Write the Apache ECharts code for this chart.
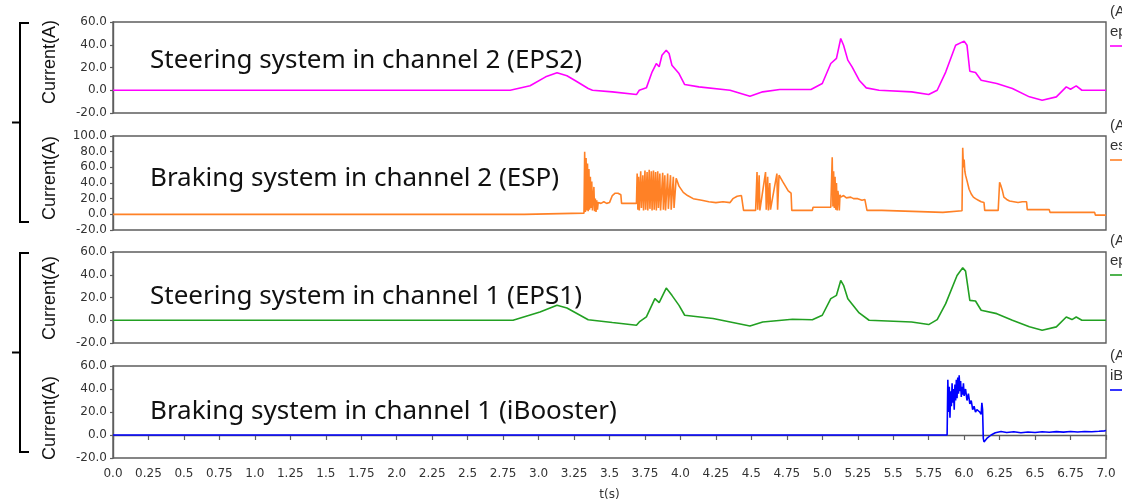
<!DOCTYPE html>
<html>
<head>
<meta charset="utf-8">
<script src="https://cdn.jsdelivr.net/npm/echarts@6/dist/echarts.min.js"></script>
<style>html,body{margin:0;padding:0;background:#fff}#c{width:1122px;height:502px}</style>
</head>
<body>
<div id="c"></div>
<script>
// ---- data (time in s, current in A) ----
const panelTitles = ['Steering system in channel 2 (EPS2)','Braking system in channel 2 (ESP)','Steering system in channel 1 (EPS1)','Braking system in channel 1 (iBooster)'];
const yMin = [-20,-20,-20,-20];
const yMax = [60,100,60,60];
const xTickStep = 0.25;

const eps2 = [[0,0],[2.8,0],[2.94,3.9],[3.05,11.8],[3.13,15.3],[3.2,12.7],[3.26,8.3],[3.35,1.5],[3.38,0],[3.52,-1.4],[3.69,-3.8],[3.71,0],[3.76,2.1],[3.8,16],[3.83,23.5],[3.85,20.6],[3.87,30.8],[3.9,35.2],[3.92,32.3],[3.94,22],[3.99,14.7],[4.03,5],[4.13,3],[4.35,0],[4.49,-5.3],[4.58,-1.4],[4.7,0.6],[4.92,0.6],[5.0,5.9],[5.06,23.5],[5.1,28],[5.13,45.5],[5.15,39.6],[5.18,26.5],[5.21,20.6],[5.26,8.8],[5.31,2.1],[5.4,0],[5.63,-1.4],[5.75,-3.8],[5.81,0],[5.87,16],[5.94,39.6],[6.0,43.2],[6.02,39.6],[6.04,16.7],[6.08,15.6],[6.12,8.8],[6.23,5.9],[6.34,1.5],[6.46,-5.8],[6.55,-8.8],[6.65,-5.8],[6.72,3],[6.75,0.9],[6.79,3.9],[6.83,0],[7,0]];

const esp = [[0,0],[2.9,0],[2.9,1.5],[3.32,1.5],[3.325,80],[3.33,3],[3.335,72],[3.34,5],[3.345,65],[3.35,4],[3.355,58],[3.36,6],[3.365,48],[3.37,8],[3.375,42],[3.38,5],[3.39,35],[3.395,4],[3.40,20],[3.405,3],[3.41,18],[3.415,6],[3.42,15],[3.43,17],[3.44,14],[3.46,16],[3.48,14],[3.50,15],[3.52,24],[3.54,27],[3.56,27],[3.58,25],[3.585,14],[3.62,14],[3.66,14],[3.69,14],
[3.695,52],[3.70,6],[3.705,48],[3.71,5],[3.72,55],[3.725,8],[3.735,50],[3.74,5],[3.75,56],[3.755,6],[3.765,54],[3.77,5],[3.78,57],[3.785,7],[3.795,55],[3.80,5],[3.81,56],[3.815,6],[3.825,54],[3.83,5],[3.84,55],[3.845,8],[3.855,52],[3.86,5],[3.875,53],[3.88,6],[3.89,50],[3.895,5],[3.91,52],[3.915,7],[3.93,50],[3.935,6],[3.95,48],[3.955,8],
[3.97,46],[3.99,36],[4.02,28],[4.05,24],[4.09,20],[4.15,18],[4.2,16],[4.25,15],[4.3,16],[4.35,15],[4.37,20],[4.40,23],[4.43,24],[4.44,22],[4.445,5],[4.53,5],
[4.54,54],[4.545,6],[4.555,50],[4.56,5],[4.60,54],[4.605,6],[4.615,48],[4.62,5],[4.63,40],[4.635,6],[4.68,52],[4.685,6],[4.695,50],[4.70,48],[4.72,42],[4.74,36],[4.76,30],[4.78,27],[4.785,5],
[4.93,5],[4.935,9],[5.06,9],[5.07,73],[5.075,10],[5.08,55],[5.085,8],[5.09,48],[5.095,6],[5.10,40],[5.105,5],[5.11,30],[5.115,22],[5.12,5],[5.125,25],[5.13,22],[5.15,24],[5.17,21],[5.2,22],[5.22,20],[5.25,20],[5.28,18],[5.3,19],[5.31,18],[5.315,5],[5.42,5],[5.425,2.5],[5.85,2.5],[5.855,4.5],[5.985,4.5],
[5.99,85],[5.995,60],[6.0,70],[6.005,55],[6.01,50],[6.02,43],[6.035,32],[6.05,26],[6.065,22],[6.08,20],[6.1,18],[6.12,16],[6.14,15],[6.145,5],[6.24,5],[6.25,41],[6.26,36],[6.27,30],[6.28,22],[6.3,19],[6.32,17],[6.35,16],[6.38,15],[6.41,16],[6.44,16],[6.445,6],[6.6,6],[6.605,2.5],[6.92,2.5],[6.925,-1],[7,-1]];

const eps1 = [[0,0],[2.82,0],[3.01,7.3],[3.13,13.1],[3.2,10.8],[3.35,0.5],[3.52,-2],[3.69,-4.4],[3.71,-1.5],[3.76,2.9],[3.82,19],[3.85,15.5],[3.9,28.3],[3.94,21.9],[3.99,13.1],[4.03,4.4],[4.23,1.5],[4.49,-5],[4.58,-1.5],[4.79,0.9],[4.93,0.5],[5.0,4.4],[5.06,19],[5.1,21.9],[5.13,35],[5.15,30.7],[5.18,19],[5.26,6.4],[5.33,0],[5.63,-1.5],[5.75,-3.8],[5.81,0.6],[5.87,14.6],[5.95,39.4],[5.99,46.1],[6.01,43.2],[6.04,17.5],[6.08,16.9],[6.12,8.8],[6.23,5.8],[6.34,0],[6.46,-5.8],[6.55,-8.8],[6.65,-5.8],[6.72,2.9],[6.76,0.6],[6.79,2.9],[6.83,0],[7,0]];

const ibooster = [[0,0],[5.88,0],[5.885,48],[5.89,20],[5.895,42],[5.9,15],[5.905,38],[5.91,25],[5.915,45],[5.92,28],[5.925,40],[5.93,22],[5.935,44],[5.94,30],[5.945,48],[5.95,32],[5.955,50],[5.96,36],[5.965,52],[5.97,38],[5.975,47],[5.98,33],[5.985,42],[5.99,35],[5.995,45],[6.0,34],[6.01,40],[6.02,30],[6.03,36],[6.04,27],[6.05,30],[6.06,22],[6.07,25],[6.08,20],[6.09,22],[6.1,21],[6.11,20],[6.12,18],[6.125,28],[6.13,22],[6.135,-3],[6.14,-6],[6.16,-3],[6.19,0],[6.22,2],[6.26,3],[6.3,2.2],[6.35,2.8],[6.4,2],[6.45,2.6],[6.5,2.2],[6.55,2.8],[6.6,2.4],[6.65,2.9],[6.7,2.5],[6.75,3],[6.8,2.6],[6.85,3],[6.9,2.8],[6.95,3.2],[6.99,3.6],[7,4]];

const seriesData = [eps2, esp, eps1, ibooster];
const colors = ['#ff00ff','#ff8126','#22a022','#0000ff'];
const legendNames = ['eps2','esp','eps1','iBooster'];

// ---- layout ----
const grids = [
  {left:113, right:16, top:22, height:91},
  {left:113, right:16, top:136, height:94},
  {left:113, right:16, top:252, height:91},
  {left:113, right:16, top:366, height:92}
];
const titleCenters = [60, 178, 296, 411];
const ylabCenters = [62, 178, 298, 418];
const legendTops = [4, 118, 233, 348];

const fmtX = v => (Math.abs(v*2 - Math.round(v*2)) < 1e-9) ? v.toFixed(1) : v.toFixed(2);
const tickFont = 'DejaVu Sans';

const option = {
  animation:false,
  backgroundColor:'#fff',
  grid: grids.map(g => Object.assign({show:true, borderColor:'#5e5e5e', borderWidth:1.4, backgroundColor:'#fff'}, g)),
  xAxis: grids.map((g,i) => ({
    type:'value', gridIndex:i, min:0, max:7, interval:xTickStep,
    show: i===3,
    offset:4,
    name: i===3 ? 't(s)' : '', nameLocation:'middle', nameGap:27,
    nameTextStyle:{color:'#333', fontSize:12, fontFamily:tickFont},
    axisLine:{show:true, lineStyle:{color:'#5e5e5e', width:1.4}},
    axisTick:{show:true, length:5, lineStyle:{color:'#5e5e5e', width:1.2}},
    axisLabel:{color:'#333', fontSize:12, fontFamily:tickFont, margin:6, formatter:fmtX},
    splitLine:{show:false}
  })),
  yAxis: grids.map((g,i) => ({
    type:'value', gridIndex:i, min:yMin[i], max:yMax[i], interval:20,
    offset:4,
    axisLine:{show:true, lineStyle:{color:'#5e5e5e', width:1.4}},
    axisTick:{show:true, length:3, lineStyle:{color:'#5e5e5e', width:1.2}},
    axisLabel:{color:'#333', fontSize:12, fontFamily:tickFont, margin:2, formatter:v=>v.toFixed(1)},
    splitLine:{show:false}
  })),
  series: seriesData.map((d,i) => ({
    type:'line', xAxisIndex:i, yAxisIndex:i, data:d, showSymbol:false, symbol:'none',
    lineStyle:{color:colors[i], width:1.6}, clip:true
  })),
  graphic: []
};

panelTitles.forEach((t,i) => {
  option.graphic.push({type:'text', x:150, y:titleCenters[i]+1, z:10,
    style:{text:t, fill:'#111', font:'26px "Noto Sans"', verticalAlign:'middle'}});
  option.graphic.push({type:'text', x:50, y:ylabCenters[i], rotation:Math.PI/2, z:10,
    style:{text:'Current(A)', fill:'#111', font:'18px "Liberation Sans"', align:'center', verticalAlign:'middle'}});
  option.graphic.push({type:'text', left:1110, top:legendTops[i], z:10,
    style:{text:'(A)', fill:'#333', font:'15px "Liberation Sans"'}});
  option.graphic.push({type:'text', left:1110, top:legendTops[i]+20, z:10,
    style:{text:legendNames[i], fill:'#333', font:'15px "Liberation Sans"'}});
  option.graphic.push({type:'line', z:10, shape:{x1:1110, y1:legendTops[i]+42, x2:1122, y2:legendTops[i]+42},
    style:{stroke:colors[i], lineWidth:1.6}});
});

// brackets
[[23,222],[253,452]].forEach(([a,b]) => {
  const m = (a+b)/2;
  option.graphic.push({type:'polyline', z:10, shape:{points:[[29,a],[20,a],[20,b],[29,b]]}, style:{stroke:'#000', lineWidth:2, fill:null}});
  option.graphic.push({type:'line', z:10, shape:{x1:12, y1:m, x2:20, y2:m}, style:{stroke:'#000', lineWidth:2}});
});

const chart = echarts.init(document.getElementById('c'), null, {renderer:'canvas'});
chart.setOption(option);
</script>
</body>
</html>
